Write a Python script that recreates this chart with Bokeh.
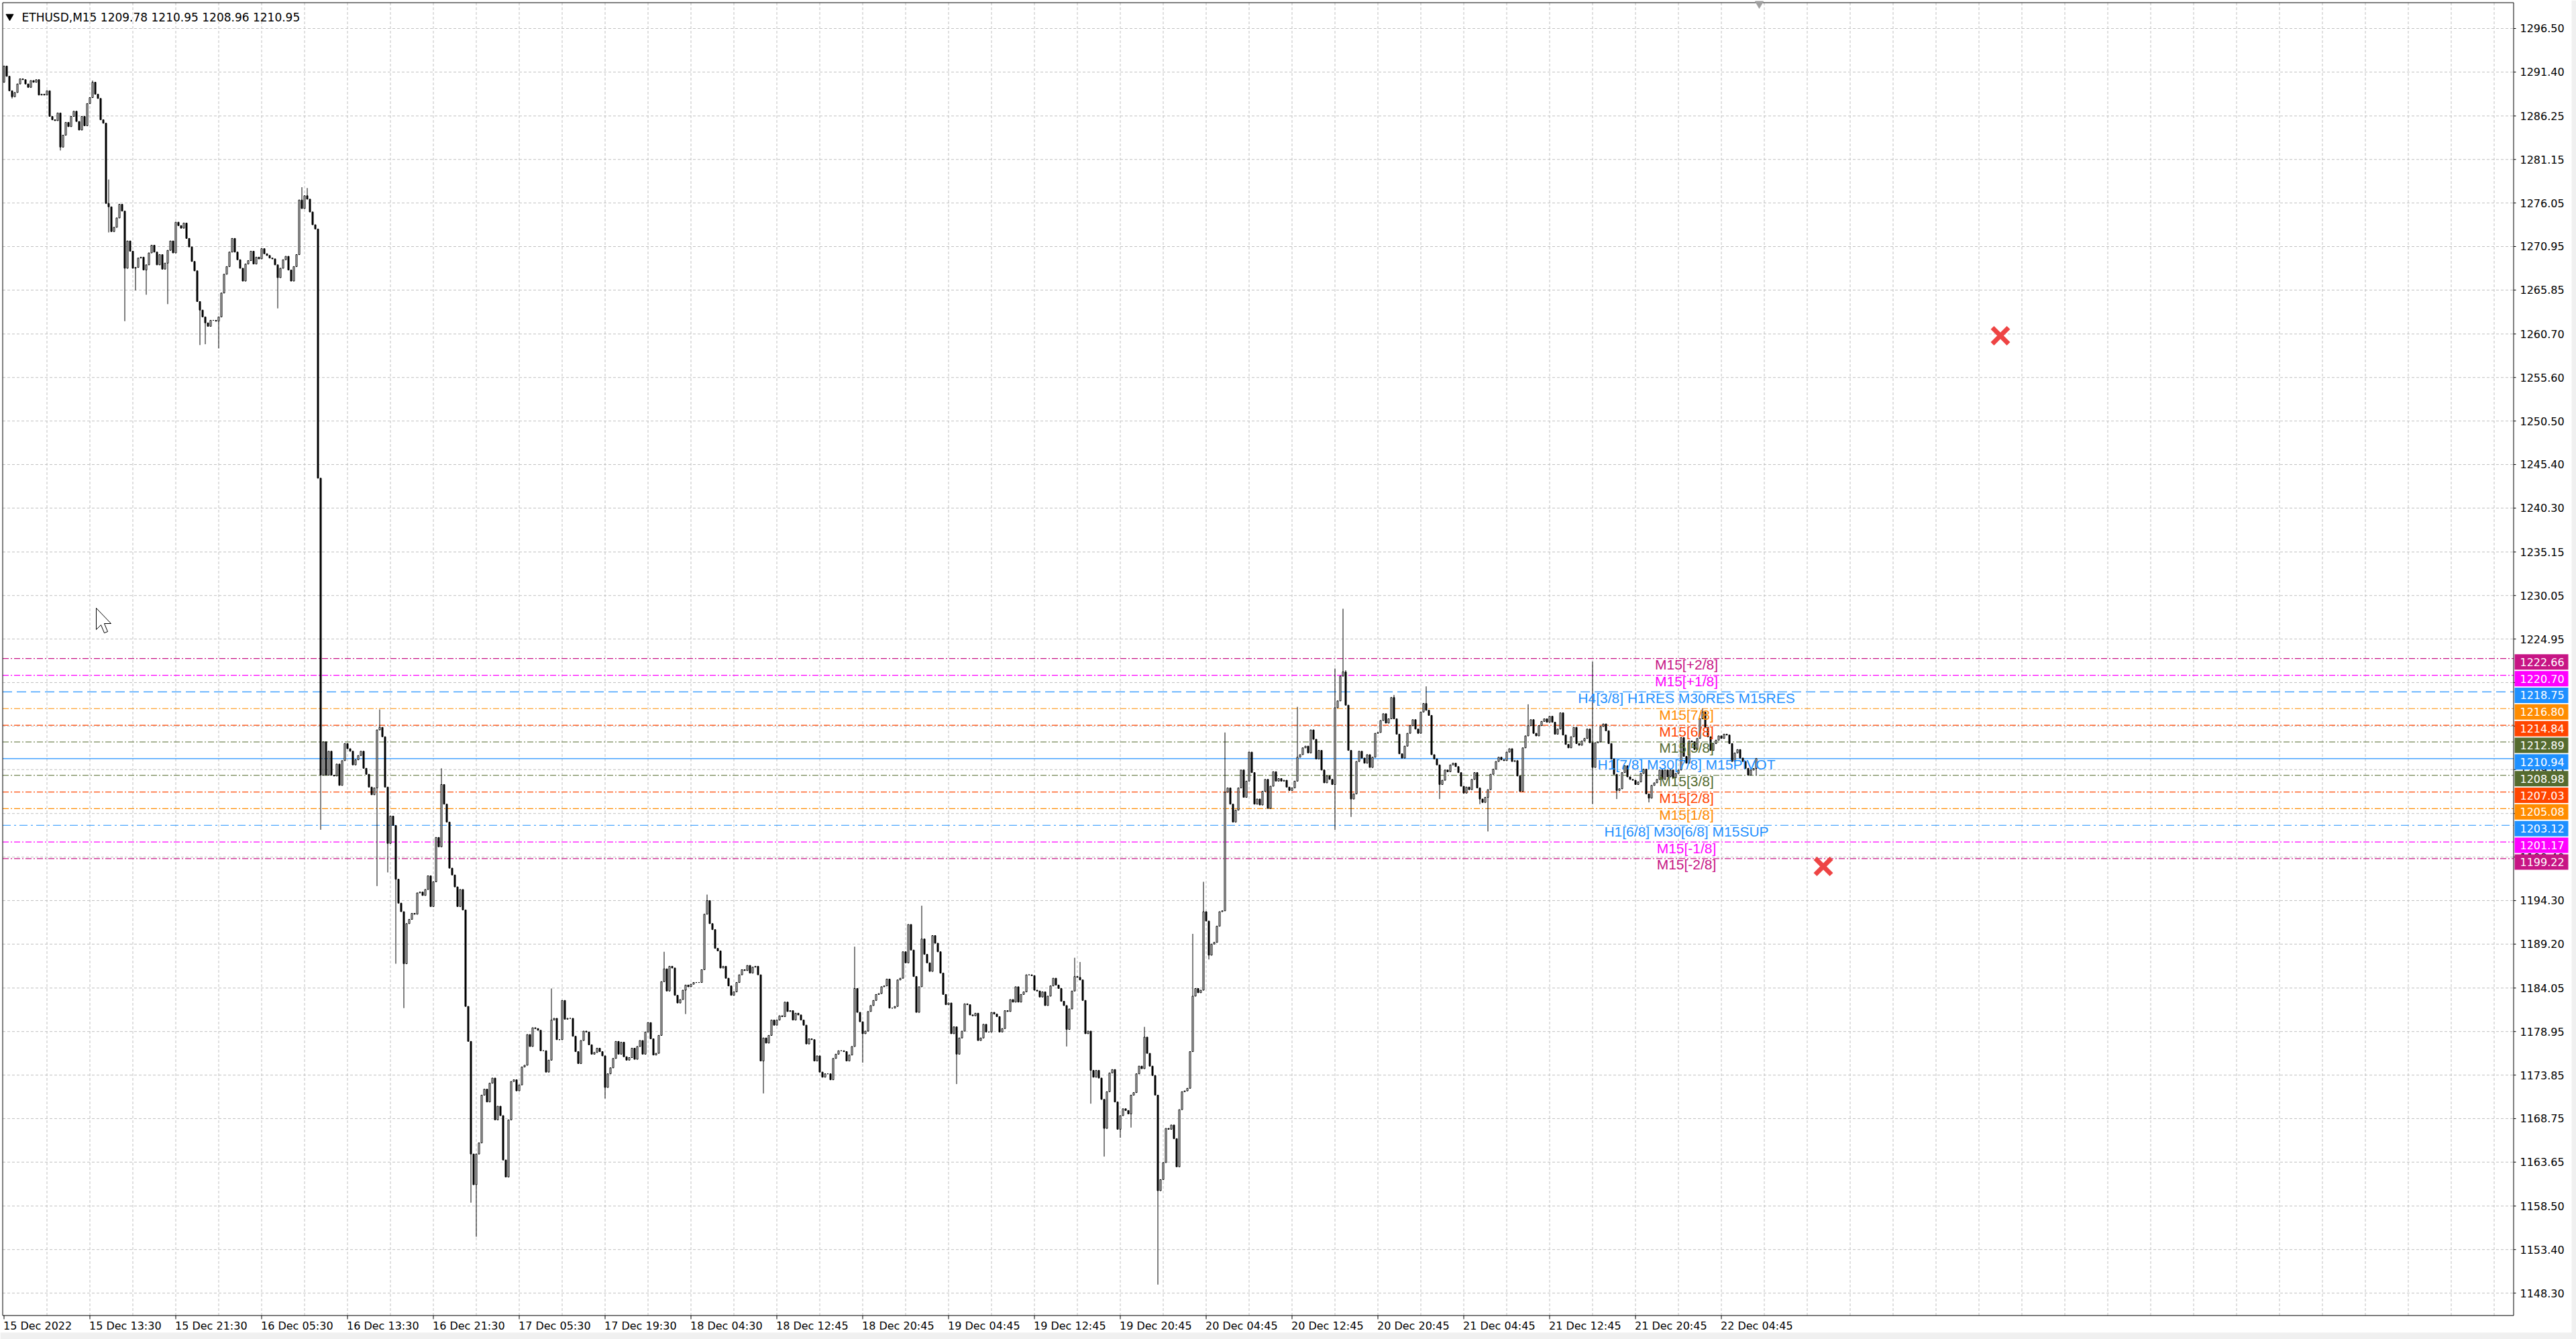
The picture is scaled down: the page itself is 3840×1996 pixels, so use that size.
from bokeh.plotting import figure
from bokeh.models import Range1d
from bokeh.core.properties import value
from bokeh.embed import file_html
from bokeh.resources import INLINE

# ---------------- data ----------------
symbol = "ETHUSD,M15"
first_open = 1290.2

# M15 closes, 15 Dec 00:00 ... (bars 0-117)
close_a = [1292.1, 1290.9, 1289.2, 1288.5, 1289.0, 1290.0, 1290.6, 1290.5, 1290.0, 1289.6,
           1290.4, 1290.2, 1290.5, 1288.7, 1288.8, 1288.7, 1289.2, 1286.2, 1285.8, 1285.7,
           1286.6, 1282.6, 1284.0, 1285.5, 1285.0, 1286.2, 1286.8, 1285.6, 1284.6, 1286.2,
           1285.1, 1287.7, 1288.4, 1290.2, 1288.8, 1288.3, 1285.8, 1285.4, 1276.0, 1275.6,
           1272.7, 1273.2, 1274.3, 1275.9, 1275.1, 1268.4, 1271.6, 1270.4, 1268.4, 1268.5,
           1269.6, 1269.7, 1268.2, 1268.8, 1270.2, 1271.1, 1270.3, 1268.8, 1270.0, 1268.3,
           1269.0, 1270.5, 1271.6, 1270.2, 1273.8, 1273.4, 1273.1, 1273.7, 1271.9, 1270.9,
           1269.2, 1268.1, 1264.5, 1263.5, 1262.7, 1262.0, 1261.6, 1262.3, 1262.3, 1262.2,
           1262.7, 1265.5, 1267.7, 1268.6, 1270.3, 1271.9, 1270.3, 1269.4, 1268.4, 1266.9,
           1268.9, 1269.3, 1270.4, 1268.9, 1269.7, 1269.5, 1270.7, 1270.1, 1269.9, 1269.6,
           1269.5, 1268.8, 1267.3, 1268.4, 1269.4, 1269.8, 1268.2, 1266.9, 1268.6, 1270.0,
           1276.4, 1275.4, 1276.9, 1276.5, 1275.0, 1273.5, 1273.0, 1243.8]
# bars 118-273
close_b = [1209.0, 1212.9, 1209.0, 1211.8, 1209.0, 1208.9, 1210.3, 1207.8, 1210.7, 1212.7,
           1212.1, 1211.8, 1210.2, 1210.8, 1211.3, 1211.8, 1209.8, 1209.1, 1207.6, 1206.7,
           1207.5, 1214.3, 1214.6, 1213.5, 1207.6, 1201.0, 1204.2, 1203.1, 1196.8, 1194.0,
           1193.0, 1186.9, 1191.6, 1192.1, 1192.8, 1192.7, 1195.2, 1195.3, 1194.9, 1195.6,
           1197.2, 1193.6, 1196.5, 1201.7, 1200.6, 1207.9, 1205.6, 1203.5, 1198.1, 1197.3,
           1195.9, 1193.6, 1195.6, 1193.2, 1181.9, 1177.8, 1164.6, 1161.0, 1164.6, 1165.9,
           1171.5, 1172.2, 1170.7, 1172.9, 1173.5, 1168.6, 1170.2, 1169.1, 1163.9, 1161.9,
           1168.6, 1173.1, 1173.3, 1172.0, 1172.7, 1174.8, 1175.0, 1178.6, 1177.2, 1179.4,
           1179.3, 1179.1, 1176.7, 1176.7, 1174.2, 1175.6, 1180.3, 1180.5, 1178.0, 1178.0,
           1182.6, 1180.4, 1180.5, 1180.5, 1178.4, 1176.6, 1175.2, 1177.9, 1179.0, 1178.9,
           1177.4, 1176.3, 1176.5, 1177.0, 1176.6, 1176.1, 1172.4, 1174.0, 1174.7, 1175.8,
           1177.8, 1176.3, 1177.7, 1176.0, 1175.6, 1175.9, 1177.0, 1175.7, 1177.2, 1177.9,
           1176.3, 1178.9, 1180.0, 1178.1, 1176.2, 1176.4, 1178.5, 1184.8, 1186.3, 1183.7,
           1186.6, 1186.4, 1183.2, 1182.3, 1182.7, 1183.8, 1184.4, 1184.2, 1184.5, 1184.7,
           1184.7, 1184.7, 1186.2, 1192.7, 1194.3, 1191.6, 1190.9, 1188.7, 1188.4, 1186.4,
           1186.6, 1185.2, 1184.3, 1183.2, 1183.6, 1184.7]
# bars 274-430
close_c = [1185.6, 1186.2, 1186.1, 1186.7, 1185.8, 1186.5, 1186.6, 1185.6, 1175.5, 1178.2,
           1177.6, 1178.5, 1180.3, 1179.7, 1180.3, 1180.8, 1180.7, 1182.4, 1181.3, 1181.4,
           1180.3, 1181.1, 1180.9, 1180.3, 1179.7, 1177.5, 1178.1, 1178.0, 1175.5, 1176.1,
           1174.2, 1173.6, 1174.0, 1174.0, 1173.3, 1175.8, 1176.3, 1176.7, 1176.7, 1176.6,
           1175.5, 1176.2, 1177.2, 1184.0, 1181.2, 1180.1, 1178.7, 1179.0, 1181.3, 1182.0,
           1182.6, 1183.3, 1183.4, 1184.2, 1184.3, 1185.1, 1181.7, 1181.7, 1181.9, 1185.0,
           1185.2, 1188.3, 1187.0, 1191.5, 1188.5, 1185.4, 1181.2, 1184.2, 1189.8, 1188.0,
           1187.0, 1186.0, 1190.2, 1189.3, 1188.3, 1185.8, 1183.3, 1182.1, 1182.3, 1178.7,
           1179.5, 1176.3, 1178.2, 1179.0, 1182.2, 1182.1, 1180.9, 1180.8, 1181.1, 1177.9,
           1178.2, 1179.8, 1178.9, 1178.9, 1181.2, 1181.0, 1180.7, 1178.9, 1179.3, 1181.4,
           1181.3, 1182.7, 1182.4, 1184.2, 1182.4, 1183.3, 1183.6, 1185.6, 1185.6, 1185.5,
           1183.8, 1183.7, 1183.0, 1183.6, 1182.0, 1183.1, 1184.3, 1185.2, 1184.4, 1184.0,
           1182.5, 1182.0, 1179.2, 1181.6, 1183.7, 1185.4, 1185.3, 1185.0, 1182.6, 1178.7,
           1179.0, 1174.4, 1173.6, 1174.4, 1173.5, 1171.0, 1167.6, 1171.9, 1174.1, 1174.5,
           1170.7, 1167.5, 1169.1, 1169.9, 1169.7, 1169.3, 1171.5, 1171.8, 1174.0, 1174.9,
           1174.6, 1178.3, 1176.4, 1174.9, 1173.8, 1171.5, 1160.3]
# bars 431-573
close_d = [1161.6, 1163.6, 1167.6, 1167.5, 1168.0, 1166.4, 1163.1, 1169.8, 1171.9, 1172.0,
           1172.3, 1176.6, 1183.1, 1184.0, 1183.5, 1183.8, 1193.0, 1191.9, 1187.9, 1189.2,
           1189.4, 1191.3, 1193.0, 1193.1,
           1207.0, 1207.5, 1205.6, 1203.5, 1204.9, 1207.5, 1209.6, 1206.4, 1208.3, 1211.7,
           1209.3, 1205.6, 1206.2, 1205.5, 1207.1, 1208.5, 1205.1, 1207.7, 1209.4, 1208.3,
           1208.6, 1208.3, 1208.4, 1207.6, 1207.2, 1207.5, 1208.3, 1211.1, 1211.4, 1212.2,
           1212.4, 1211.6, 1214.3, 1213.2, 1210.9, 1211.9, 1209.6, 1208.1, 1208.9, 1208.5,
           1207.9, 1216.9, 1217.7, 1220.6, 1221.1, 1217.2, 1211.9, 1206.2, 1206.8, 1210.6,
           1211.8, 1211.0, 1210.4, 1211.4, 1209.9, 1211.1, 1213.9, 1214.0, 1215.4, 1216.2,
           1215.1, 1215.6, 1218.1, 1215.6, 1213.8, 1211.5, 1211.0, 1212.4, 1213.9, 1214.8,
           1215.5, 1214.4, 1213.9, 1216.4, 1217.4, 1216.6, 1216.0, 1211.4, 1210.9, 1210.2,
           1207.9, 1208.4, 1209.6, 1209.4, 1210.2, 1210.4, 1210.0, 1209.3, 1207.7, 1206.9,
           1207.6, 1207.3, 1208.5, 1209.3, 1207.5, 1206.2, 1205.8, 1206.4, 1207.3, 1209.1,
           1209.7, 1210.6, 1211.1, 1210.8, 1210.7, 1211.7, 1212.1, 1210.6, 1210.7, 1208.9,
           1207.1, 1212.2, 1213.6, 1214.8, 1215.5, 1213.9, 1213.6, 1214.8, 1215.3]
# bars 574-653
close_e = [1215.6, 1215.2, 1215.9, 1215.2, 1213.8, 1214.4, 1216.3, 1213.7, 1212.6, 1212.2,
           1213.5, 1214.6, 1212.7, 1212.5, 1213.0, 1213.3, 1214.4, 1212.8, 1209.9, 1212.8,
           1212.9, 1214.7, 1215.0, 1214.2, 1212.7, 1210.9, 1209.1, 1207.2, 1207.4, 1209.3,
           1210.1, 1208.8, 1208.5, 1208.4, 1207.9, 1208.2, 1209.2, 1209.7, 1206.8, 1206.3,
           1207.8, 1208.1, 1208.5, 1209.6, 1208.5, 1209.6, 1208.8, 1209.6, 1208.7, 1209.2,
           1209.6, 1213.4, 1211.2, 1210.4, 1213.0, 1212.9, 1212.0, 1213.3, 1215.6, 1216.4,
           1214.6, 1213.5, 1211.9, 1212.7, 1213.1, 1213.6, 1213.3, 1213.8, 1213.7, 1212.7,
           1210.6, 1211.6, 1212.0, 1211.0, 1210.6, 1209.8, 1209.0, 1209.6, 1209.78, 1210.95]

# notable wick extremes (bar index -> price)
wick_high = {33: 1290.4, 39: 1278.8, 111: 1277.9, 113: 1277.8, 140: 1216.7, 163: 1209.8,
             204: 1184.0, 246: 1188.3, 262: 1195.0, 317: 1188.9, 342: 1193.7, 399: 1187.6,
             401: 1187.1, 425: 1179.5, 443: 1190.4, 447: 1196.5, 455: 1214.0, 482: 1217.0,
             496: 1221.5, 499: 1228.5, 500: 1221.3, 518: 1218.4, 530: 1219.4, 568: 1217.3,
             592: 1222.3, 633: 1216.8}
wick_low = {3: 1288.3, 21: 1282.2, 39: 1272.6, 45: 1262.2, 49: 1265.8, 53: 1265.3, 61: 1264.2,
            73: 1259.4, 75: 1259.5, 80: 1259.0, 102: 1263.7, 118: 1202.6, 139: 1196.0,
            143: 1197.6, 146: 1186.9, 149: 1181.7, 174: 1158.9, 176: 1154.9, 224: 1171.1,
            254: 1181.0, 283: 1171.7, 320: 1175.3, 355: 1172.8, 396: 1177.2, 405: 1170.5,
            410: 1164.3, 416: 1166.5, 420: 1167.7, 430: 1149.3, 449: 1187.4, 496: 1202.6,
            502: 1204.1, 535: 1206.2, 550: 1205.6, 553: 1202.4, 592: 1205.6, 601: 1206.2,
            613: 1205.8, 653: 1208.96}

# Murrey-math levels
level_prices = [1222.66, 1220.70, 1218.75, 1216.80, 1214.84, 1212.89, 1210.94,
                1208.98, 1207.03, 1205.08, 1203.12, 1201.17, 1199.22]
level_names = ["M15[+2/8]", "M15[+1/8]", "H4[3/8] H1RES M30RES M15RES", "M15[7/8]",
               "M15[6/8]", "M15[5/8]", "H1[7/8] M30[7/8] M15PIVOT", "M15[3/8]",
               "M15[2/8]", "M15[1/8]", "H1[6/8] M30[6/8] M15SUP", "M15[-1/8]", "M15[-2/8]"]
level_colors = ["#C71585", "#FF00FF", "#1E90FF", "#FF8C00", "#FF4500", "#556B2F", "#1E90FF",
                "#556B2F", "#FF4500", "#FF8C00", "#1E90FF", "#FF00FF", "#C71585"]
level_dashes = ["9 3 2 3", "9 3 2 3", "14 7", "9 3 2 3", "9 3 2 3", "9 3 2 3", "solid",
                "9 3 2 3", "9 3 2 3", "9 3 2 3", "12 5 3 5", "9 3 2 3", "9 3 2 3"]
label_bar = 627

# red stop marks
marker_bars = [744, 678]
marker_prices = [1260.5, 1198.3]

# axis ticks
y_ticks = [1296.50, 1291.40, 1286.25, 1281.15, 1276.05, 1270.95, 1265.85, 1260.70, 1255.60,
           1250.50, 1245.40, 1240.30, 1235.15, 1230.05, 1224.95, 1219.85, 1214.75, 1209.65,
           1204.50, 1199.40, 1194.30, 1189.20, 1184.05, 1178.95, 1173.85, 1168.75, 1163.65,
           1158.50, 1153.40, 1148.30]
label_bars = [0, 32, 64, 96, 128, 160, 192, 224, 256, 288, 320, 352, 384, 416, 448, 480,
              512, 544, 576, 608, 640]
time_labels = ["15 Dec 2022", "15 Dec 13:30", "15 Dec 21:30", "16 Dec 05:30", "16 Dec 13:30",
               "16 Dec 21:30", "17 Dec 05:30", "17 Dec 19:30", "18 Dec 04:30", "18 Dec 12:45",
               "18 Dec 20:45", "19 Dec 04:45", "19 Dec 12:45", "19 Dec 20:45", "20 Dec 04:45",
               "20 Dec 12:45", "20 Dec 20:45", "21 Dec 04:45", "21 Dec 12:45", "21 Dec 20:45",
               "22 Dec 04:45"]

# ---------------- derived candles ----------------
closes = close_a + close_b + close_c + close_d + close_e
n = len(closes)
bars = list(range(n))
opens = [first_open] + closes[:-1]
highs = [max(o, c, wick_high.get(i, c)) for i, (o, c) in enumerate(zip(opens, closes))]
lows = [min(o, c, wick_low.get(i, c)) for i, (o, c) in enumerate(zip(opens, closes))]
tops = [max(o, c) for o, c in zip(opens, closes)]
bots = [min(o, c) for o, c in zip(opens, closes)]
fills = ["white" if c >= o else "black" for o, c in zip(opens, closes)]

# ---------------- layout (window pixels -> data) ----------------
W, H = 3840, 1996
PX_BAR = 4.0          # pixels per M15 bar
PX_PRICE = 12.72      # pixels per price unit
X_LEFT = -1.375       # bar value at the left edge of the canvas
Y_TOP = 1299.80       # price at the top edge of the canvas


def wx(px):
    return X_LEFT + px / PX_BAR


def wy(py):
    return Y_TOP - py / PX_PRICE


def dpx(npx):
    return npx / PX_PRICE


CHART_L = wx(3.5)
CHART_T = wy(3.5)
CHART_R = wx(3746.5)
CHART_B = wy(1960.5)

AX_FONT = "DejaVu Sans"

p = figure(width=W, height=H, x_range=Range1d(wx(0), wx(W)),
           y_range=Range1d(wy(H), wy(0)), x_axis_location=None, y_axis_location=None,
           output_backend="svg", toolbar_location=None,
           min_border_left=0, min_border_right=0, min_border_top=0, min_border_bottom=0)
p.background_fill_color = "white"
p.border_fill_color = "white"
p.outline_line_color = None
p.grid.visible = False

# window edge strips
p.quad(left=[wx(3833), wx(0)], right=[wx(W), wx(W)], top=[wy(0), wy(1986)],
       bottom=[wy(H), wy(H)], fill_color="#f0f0f0", line_color=None)

# grid
grid_bars = list(range(16, 934, 16))
p.segment(x0=grid_bars, y0=[CHART_B] * len(grid_bars), x1=grid_bars,
          y1=[CHART_T] * len(grid_bars), line_color="#c0c0c0", line_dash="4 3", line_width=1)
p.segment(x0=[CHART_L] * len(y_ticks), y0=y_ticks, x1=[CHART_R] * len(y_ticks), y1=y_ticks,
          line_color="#c0c0c0", line_dash="4 3", line_width=1)

# level lines
for lv, col, dash in zip(level_prices, level_colors, level_dashes):
    p.segment(x0=[CHART_L], y0=[lv], x1=[CHART_R], y1=[lv], line_color=col,
              line_dash=dash, line_width=1.2)

# candles
p.segment(x0=bars, y0=lows, x1=bars, y1=highs, line_color="black", line_width=1)
p.vbar(x=bars, width=0.5, top=tops, bottom=bots, fill_color=fills, line_color="black",
       line_width=1)

# level texts
p.text(x=[label_bar] * len(level_prices), y=[lv + dpx(2.5) for lv in level_prices],
       text=level_names, text_color=level_colors, text_align="center", text_baseline="top",
       text_font=value("Liberation Sans"), text_font_size="21px")

# red marks
p.scatter(x=marker_bars, y=marker_prices, marker="x", size=34, line_width=7,
          line_color="#EE4444")

# chart frame: left, top, right scale line, bottom time line
p.segment(x0=[CHART_L, CHART_L, CHART_R, CHART_L], y0=[CHART_B, CHART_T, CHART_B, CHART_B],
          x1=[CHART_L, CHART_R, CHART_R, CHART_R], y1=[CHART_T, CHART_T, CHART_T, CHART_B],
          line_color="black", line_width=1)
# chart shift mark
p.scatter(x=[wx(2622)], y=[wy(5)], marker="inverted_triangle", size=12, color="#a0a0a0")

# mouse pointer left on the chart
cur_px = [(143, 906), (143, 938), (150, 931), (155, 943), (160, 941), (155, 929), (165, 929)]
p.patch(x=[wx(a) for a, b in cur_px], y=[wy(b) for a, b in cur_px], fill_color="white",
        line_color="black", line_width=1)

# price scale
p.segment(x0=[CHART_R] * len(y_ticks), y0=y_ticks, x1=[wx(3750)] * len(y_ticks), y1=y_ticks,
          line_color="black", line_width=1)
p.text(x=[wx(3756)] * len(y_ticks), y=y_ticks, text=[f"{t:.2f}" for t in y_ticks],
       text_align="left", text_baseline="middle", text_font=value(AX_FONT),
       text_font_size="16px", text_color="black")

# coloured price boxes of the levels
box_mid = [lv - dpx(5) for lv in level_prices]
p.quad(left=[wx(3748)] * len(level_prices), right=[wx(3828)] * len(level_prices),
       top=[m + dpx(11.5) for m in box_mid], bottom=[m - dpx(11.5) for m in box_mid],
       fill_color=level_colors, line_color=None)
p.text(x=[wx(3756)] * len(level_prices), y=box_mid, text=[f"{lv:.2f}" for lv in level_prices],
       text_align="left", text_baseline="middle", text_font=value(AX_FONT),
       text_font_size="16px", text_color="white")

# time scale
p.segment(x0=label_bars, y0=[CHART_B] * len(label_bars), x1=label_bars,
          y1=[wy(1966)] * len(label_bars), line_color="black", line_width=1)
p.text(x=[b - 0.25 for b in label_bars], y=[wy(1966)] * len(label_bars), text=time_labels,
       text_align="left", text_baseline="top", text_font=value(AX_FONT),
       text_font_size="16px", text_color="black")

# header
header = f"{symbol}  {opens[-1]:.2f} {highs[-1]:.2f} {lows[-1]:.2f} {closes[-1]:.2f}"
p.scatter(x=[wx(14)], y=[wy(24)], marker="inverted_triangle", size=11, color="black")
p.text(x=[wx(32)], y=[wy(25)], text=[header], text_font=value(AX_FONT),
       text_font_size="17px", text_baseline="middle", text_align="left", text_color="black")

open("out.html", "w").write(file_html(p, INLINE))
